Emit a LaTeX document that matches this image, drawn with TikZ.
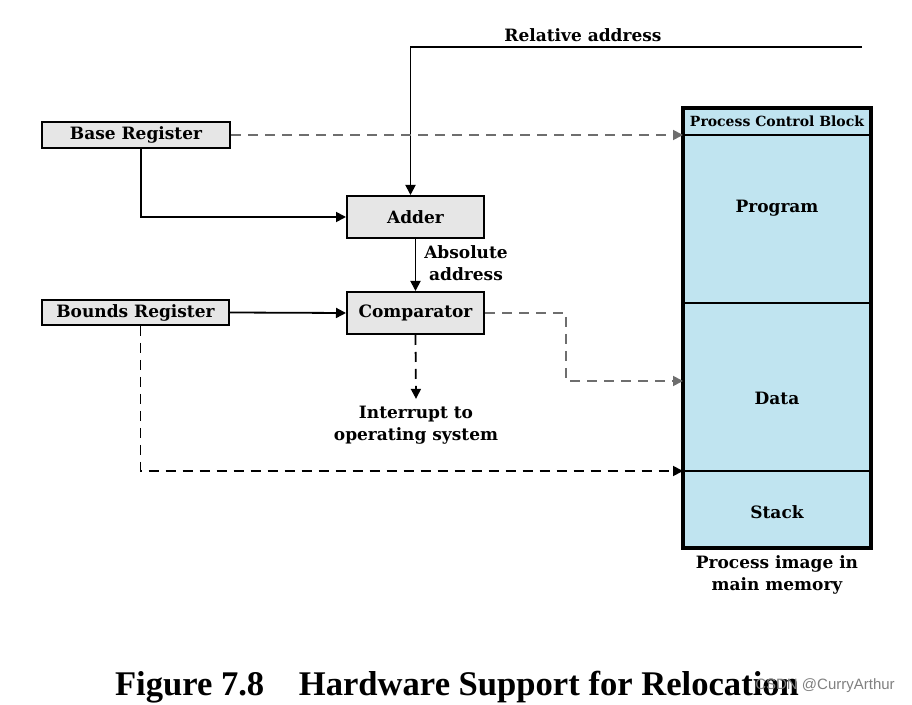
\documentclass[tikz,border=0pt]{standalone}
\usepackage{fontspec}
\setmainfont{DejaVu Serif}
\newfontfamily\capfont{Liberation Serif}
\newfontfamily\wmfont{Liberation Sans}
\usetikzlibrary{arrows.meta,positioning}

\definecolor{regGray}{RGB}{230,230,230}
\definecolor{memBlue}{RGB}{192,228,240}
\definecolor{dashGray}{RGB}{110,110,110}

\tikzset{
  reg/.style={draw, line width=1pt, fill=regGray, inner sep=0pt,
    font=\bfseries\fontsize{8.5}{10}\selectfont},
  seg/.style={draw, line width=1pt, fill=memBlue, minimum width=94pt, inner sep=0pt, outer sep=0pt},
  lbl/.style={font=\bfseries\fontsize{8.5}{11}\selectfont, align=center},
  wire/.style={line width=0.9pt, -{Triangle[length=5pt,width=5pt]}},
  dwire/.style={wire, dash pattern=on 5pt off 3.5pt},
}

\begin{document}
\begin{tikzpicture}[x=0.5pt, y=-0.5pt]
  \useasboundingbox (0,0) rectangle (912,705);

  % registers and units
  \node[reg, minimum width=94pt, minimum height=13pt] (base) at (136,135) {Base Register};
  \node[reg, minimum width=93.5pt, minimum height=12.5pt] (bounds) at (135.5,312.5) {Bounds Register};
  \node[reg, minimum width=68.5pt, minimum height=21pt] (adder) at (415.5,217) {Adder};
  \node[reg, minimum width=68.5pt, minimum height=21pt] (comp) at (415.5,313) {Comparator};

  % process image
  \node[seg, minimum height=13.5pt, font=\bfseries\fontsize{7}{8}\selectfont] (pcb) at (777,121.5) {Process Control Block};
  \node[seg, minimum height=84pt, below=0pt of pcb] (prog) {};
  \node[seg, minimum height=84pt, below=0pt of prog] (data) {};
  \node[seg, minimum height=38.5pt, below=0pt of data] (stack) {};
  \draw[line width=1.6pt] (pcb.north west) rectangle (stack.south east);
  \node[lbl] (progtxt) at (777,208) {Program};
  \node[lbl] (datatxt) at (777,398) {Data};
  \node[lbl] (stacktxt) at (777,512) {Stack};
  \node[lbl] (memtxt) at (777,575) {Process image in\\main memory};

  % connectors
  \coordinate (relin) at (862,47);
  \node[lbl] (reltxt) at (583,35) {Relative address};
  \draw[wire] (relin) -| ([xshift=-2.5pt]adder.north);
  \draw[dwire, dashGray] (base.east) -- (prog.north west);
  \draw[wire] ([xshift=2.5pt]base.south) |- (adder.west);
  \draw[wire] (adder.south) -- (comp.north);
  \node[lbl] (abstxt) at (466,263) {Absolute\\address};
  \draw[wire] (bounds.east) -- (comp.west);
  \coordinate (cturn) at (566,313);
  \draw[dwire, dashGray] (comp.east) -- (cturn) |- ([yshift=3pt]data.west);
  \node[lbl] (irq) at (416,425) {Interrupt to\\operating system};
  \draw[dwire] (comp.south) -- (irq.north);
  \draw[dwire] ([xshift=2.5pt]bounds.south) |- (stack.north west);

  \node[font=\capfont\bfseries\fontsize{17.3}{20}\selectfont] (caption) at (457,687)
    {Figure 7.8\hspace{1em}Hardware Support for Relocation};
  \node[font=\wmfont\fontsize{7.5}{9}\selectfont, text=gray] (wm) at (825,686) {CSDN @CurryArthur};
\end{tikzpicture}
\end{document}
